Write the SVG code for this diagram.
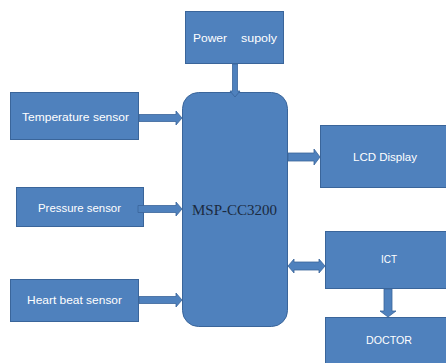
<svg xmlns="http://www.w3.org/2000/svg" width="446" height="363" viewBox="0 0 446 363">
<style>
.box{fill:#4F81BD;stroke:#3A659A;stroke-width:1}
.arr{fill:#4F81BD;stroke:#3A659A;stroke-width:0.8}
.t{font-family:"Liberation Sans",Arial,sans-serif;font-size:10.5px;fill:#ffffff;text-anchor:start;dominant-baseline:central}
.m{font-family:"Liberation Serif","Times New Roman",serif;font-size:14.5px;fill:#1B2A40;dominant-baseline:central}
</style>
<rect width="446" height="363" fill="#ffffff"/>
<g id="power">
<rect class="box" x="185.5" y="11.5" width="98" height="52"/>
<text class="t" x="193" y="38"><tspan textLength="34" lengthAdjust="spacingAndGlyphs">Power</tspan><tspan x="241" textLength="36" lengthAdjust="spacingAndGlyphs">supoly</tspan></text>
</g>
<g id="mcu">
<rect class="box" x="182.5" y="92.5" width="105" height="234" rx="16" ry="16"/>
<text class="m" x="192" y="210" textLength="85" lengthAdjust="spacingAndGlyphs">MSP-CC3200</text>
</g>
<g id="temp">
<rect class="box" x="10.5" y="92.5" width="128" height="47"/>
<text class="t" x="22" y="117" textLength="107" lengthAdjust="spacingAndGlyphs">Temperature sensor</text>
</g>
<g id="pressure">
<rect class="box" x="16.5" y="187.5" width="127" height="39"/>
<text class="t" x="38" y="208" textLength="83" lengthAdjust="spacingAndGlyphs">Pressure sensor</text>
</g>
<g id="heart">
<rect class="box" x="10.5" y="279.5" width="128" height="42"/>
<text class="t" x="27" y="300" textLength="95" lengthAdjust="spacingAndGlyphs">Heart beat sensor</text>
</g>
<g id="lcd">
<rect class="box" x="320.5" y="125.5" width="130" height="62"/>
<text class="t" x="353" y="157" textLength="64" lengthAdjust="spacingAndGlyphs">LCD Display</text>
</g>
<g id="iot">
<rect class="box" x="325.5" y="231.5" width="125" height="57"/>
<text class="t" x="381" y="259" textLength="16" lengthAdjust="spacingAndGlyphs">ICT</text>
</g>
<g id="doctor">
<rect class="box" x="325.5" y="317.5" width="125" height="50"/>
<text class="t" x="366" y="340" textLength="46" lengthAdjust="spacingAndGlyphs">DOCTOR</text>
</g>
<g id="connectors">
<path class="arr" d="M232.5,64 L237.5,64 L237.5,91 L240,91 L235,97 L230,91 L232.5,91 Z"/>
<path class="arr" d="M139,114.5 L176,114.5 L176,111 L182,118 L176,125 L176,121.5 L139,121.5 Z"/>
<path class="arr" d="M138,205.5 L176,205.5 L176,202 L182,209 L176,216 L176,212.5 L138,212.5 Z"/>
<path class="arr" d="M139,296.5 L176,296.5 L176,293 L182,300 L176,307 L176,303.5 L139,303.5 Z"/>
<path class="arr" d="M288,153 L314,153 L314,149 L320,157 L314,165 L314,161 L288,161 Z"/>
<path class="arr" d="M288,266 L294,259 L294,262 L319,262 L319,259 L325,266 L319,273 L319,270 L294,270 L294,273 Z"/>
<path class="arr" d="M384,289 L392,289 L392,311 L396,311 L388,317 L380,311 L384,311 Z"/>
</g>
</svg>
